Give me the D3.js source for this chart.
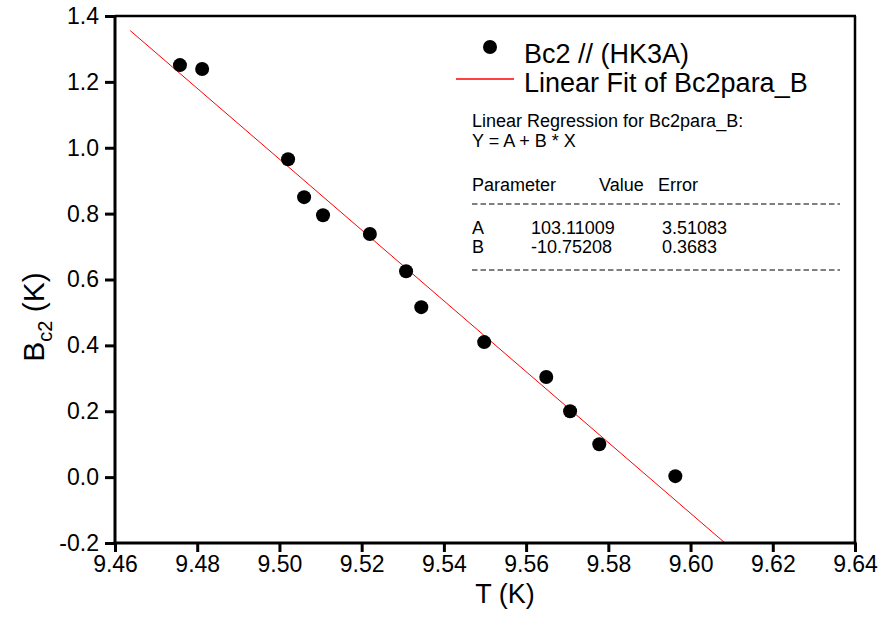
<!DOCTYPE html>
<html>
<head>
<meta charset="utf-8">
<script src="https://cdn.jsdelivr.net/npm/d3@7"></script>
<style>
  html, body { margin: 0; padding: 0; background: #fff; }
  svg { display: block; font-family: Arial, "Liberation Sans", Helvetica, sans-serif; }
</style>
</head>
<body>
<svg id="chart" width="883" height="620"></svg>
<script>
// ---- data ----
const temperature = [9.4758, 9.4812, 9.5021, 9.5060, 9.5106, 9.5220, 9.5308, 9.5345, 9.5498, 9.5649, 9.5707, 9.5778, 9.5963];
const bc2 = [1.251, 1.239, 0.965, 0.850, 0.795, 0.738, 0.625, 0.516, 0.410, 0.304, 0.200, 0.100, 0.003];
const fitA = 103.11009;
const fitB = -10.75208;
const fitRange = [9.4637, 9.6083];
const xTicks = [9.46, 9.48, 9.50, 9.52, 9.54, 9.56, 9.58, 9.60, 9.62, 9.64];
const yTicks = [-0.2, 0.0, 0.2, 0.4, 0.6, 0.8, 1.0, 1.2, 1.4];
const legendLabels = ["Bc2 // (HK3A)", "Linear Fit of Bc2para_B"];
const tableHeader = ["Parameter", "Value", "Error"];
const tableRows = [["A", "103.11009", "3.51083"], ["B", "-10.75208", "0.3683"]];

// ---- layout ----
const svg = d3.select("#chart");
const L = 115, R = 855, T = 16, B = 543;
const x = d3.scaleLinear().domain([9.46, 9.64]).range([L, R]);
const y = d3.scaleLinear().domain([-0.2, 1.4]).range([B, T]);

svg.append("defs").append("clipPath").attr("id", "plotclip")
  .append("rect").attr("x", L).attr("y", T).attr("width", R - L).attr("height", B - T);

// frame (top/right)
svg.append("line").attr("x1", L).attr("x2", R + 1).attr("y1", T).attr("y2", T)
  .attr("stroke", "#000").attr("stroke-width", 2.5);
svg.append("line").attr("x1", R).attr("x2", R).attr("y1", T).attr("y2", B)
  .attr("stroke", "#000").attr("stroke-width", 2.5);

// fit line
const fitLine = d3.line().x(d => x(d)).y(d => y(fitA + fitB * d));
svg.append("path").datum(fitRange)
  .attr("d", fitLine)
  .attr("clip-path", "url(#plotclip)")
  .attr("fill", "none").attr("stroke", "#ff0000").attr("stroke-width", 1);

// points
svg.append("g").selectAll("circle").data(temperature).join("circle")
  .attr("cx", d => x(d)).attr("cy", (d, i) => y(bc2[i])).attr("r", 7)
  .attr("fill", "#000");

// axes
const fmtY = d => d3.format(".1f")(d).replace("\u2212", "-");
const xAxis = svg.append("g").attr("transform", `translate(0,${B})`)
  .call(d3.axisBottom(x).tickValues(xTicks).tickFormat(d3.format(".2f")).tickSizeOuter(0).tickSize(9).tickPadding(4));
const yAxis = svg.append("g").attr("transform", `translate(${L},0)`)
  .call(d3.axisLeft(y).tickValues(yTicks).tickFormat(fmtY).tickSizeOuter(0).tickSize(10).tickPadding(6));
[xAxis, yAxis].forEach(g => {
  g.select(".domain").attr("stroke", "#000").attr("stroke-width", 3);
  g.selectAll(".tick line").attr("stroke", "#000").attr("stroke-width", 3);
  g.selectAll(".tick text").attr("fill", "#000").attr("font-size", 23)
    .attr("font-family", "Arial, 'Liberation Sans', sans-serif");
});
xAxis.select(".domain").attr("d", `M${L - 1.5},0H${R + 1.5}`);
yAxis.select(".domain").attr("d", `M0,${B + 1.5}V${T - 1}`);

// axis titles
svg.append("text").attr("x", 505).attr("y", 603).attr("text-anchor", "middle")
  .attr("font-size", 27).text("T (K)");
const yt = svg.append("text").attr("transform", `translate(44,317) rotate(-90)`)
  .attr("text-anchor", "middle").attr("font-size", 30);
yt.append("tspan").text("B");
yt.append("tspan").attr("font-size", 20).attr("dy", 8).text("c2");
yt.append("tspan").attr("dy", -8).text(" (K)");

// legend
const lg = svg.append("g");
lg.append("circle").attr("cx", 490).attr("cy", 47).attr("r", 7).attr("fill", "#000");
lg.append("text").attr("x", 524).attr("y", 63).attr("font-size", 27).text(legendLabels[0]);
lg.append("line").attr("x1", 456).attr("x2", 514).attr("y1", 79).attr("y2", 79)
  .attr("stroke", "#ff0000").attr("stroke-width", 1.3);
lg.append("text").attr("x", 524).attr("y", 92).attr("font-size", 27).text(legendLabels[1]);

// regression table
const tb = svg.append("g").attr("font-size", 18);
tb.append("text").attr("x", 472).attr("y", 127).text("Linear Regression for Bc2para_B:");
tb.append("text").attr("x", 472).attr("y", 147).text("Y = A + B * X");
const colX = [472, 599, 658];
tableHeader.forEach((h, i) => tb.append("text").attr("x", colX[i]).attr("y", 191).text(h));
[204, 270].forEach(yy => tb.append("line").attr("x1", 472).attr("x2", 840)
  .attr("y1", yy).attr("y2", yy).attr("stroke", "#000").attr("stroke-width", 1)
  .attr("stroke-dasharray", "5.5,3"));
const rowX = [472, 531, 662];
tableRows.forEach((row, r) => row.forEach((c, i) =>
  tb.append("text").attr("x", rowX[i]).attr("y", 234 + r * 19).text(c)));
</script>
</body>
</html>
